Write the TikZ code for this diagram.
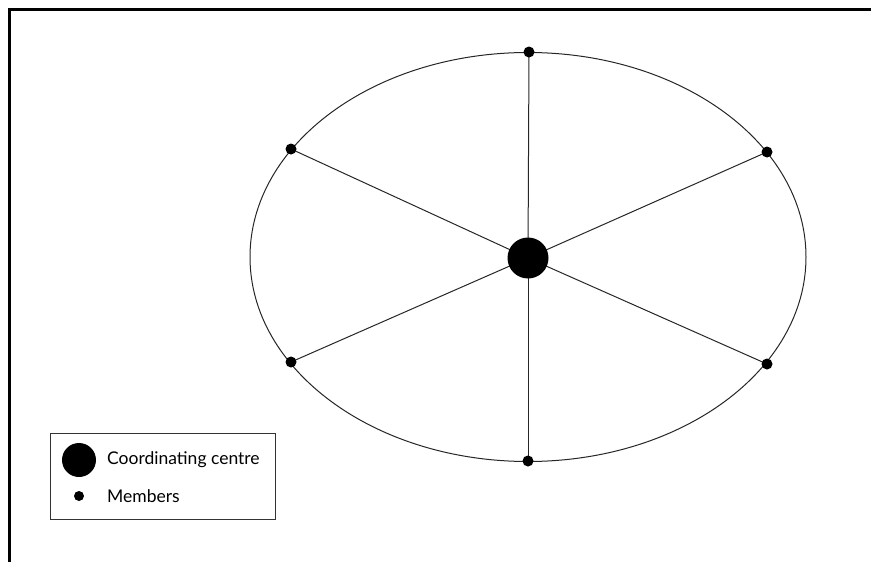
\documentclass[tikz,border=0pt]{standalone}
\usepackage{fontspec}
\setmainfont{Lato}
\usetikzlibrary{backgrounds}
\begin{document}
\begin{tikzpicture}[x=1pt,y=-1pt,
  member/.style={circle,fill=black,inner sep=0pt,minimum size=11pt},
  centre/.style={circle,fill=black,inner sep=0pt,minimum size=41pt},
  spoke/.style={draw=black!85,line width=1pt},
  lbl/.style={anchor=west,font=\fontsize{17.5}{20}\selectfont,inner sep=0pt}]
\useasboundingbox (0,0) rectangle (871,562);
% frame
\draw[line width=2.2pt] (9.5,562) -- (9.5,9.5) -- (871,9.5);
% nodes
\node[centre] (c) at (528,258) {};
\node[member] (m1) at (529,52) {};
\node[member] (m2) at (767,152) {};
\node[member] (m3) at (767,364) {};
\node[member] (m4) at (528,461) {};
\node[member] (m5) at (291,362) {};
\node[member] (m6) at (291,149) {};
\begin{scope}[on background layer]
\draw[black!85,line width=1pt] (528,257) ellipse [x radius=278, y radius=204.5];
\foreach \m in {m1,m2,m3,m4,m5,m6} \draw[spoke] (c.center) -- (\m.center);
\end{scope}
% legend
\draw[black!80,line width=0.8pt] (50,433) rectangle (275,519);
\node[centre,minimum size=34pt] (lc) at (79,460) {};
\node[member,minimum size=10pt] (lm) at (79,496) {};
\node[lbl] (t1) at (107,460) {Coordinating centre};
\node[lbl] (t2) at (107,496) {Members};
\end{tikzpicture}
\end{document}
